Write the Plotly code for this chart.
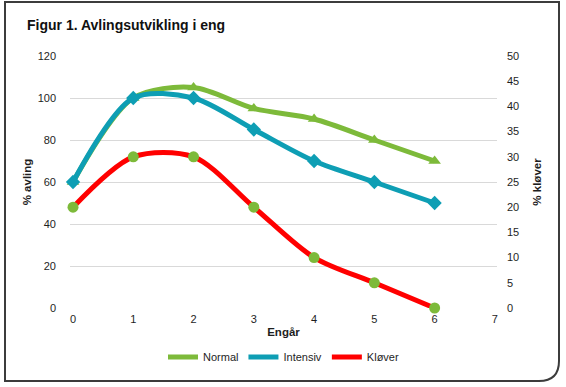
import plotly.graph_objects as go

# ---- data ----
years = [0, 1, 2, 3, 4, 5, 6]
normal = [60, 100, 105, 95, 90, 80, 70]
intensiv = [60, 100, 100, 85, 70, 60, 50]
klover = [20, 30, 30, 20, 10, 5, 0]
x_ticks = [0, 1, 2, 3, 4, 5, 6, 7]
left_ticks = [0, 20, 40, 60, 80, 100, 120]
right_ticks = [0, 5, 10, 15, 20, 25, 30, 35, 40, 45, 50]

GREEN = "#7DBA3A"
TEAL = "#0E9EB4"
RED = "#FF0000"
TXT = "#1e1e1e"
FONT = "Liberation Sans, Arial, sans-serif"

W, H = 566, 387
L, R, T, B = 70, 69, 56, 79
PW, PH = W - L - R, H - T - B
SM = 0.85


def px(x):
    return (x - L) / PW


def py(y):
    return (H - B - y) / PH


fig = go.Figure()
fig.add_trace(go.Scatter(
    x=years, y=normal, mode="lines+markers", name="Normal", showlegend=False,
    line=dict(color=GREEN, width=5, shape="spline", smoothing=SM),
    marker=dict(symbol="triangle-up", size=11, color=GREEN), cliponaxis=False))
fig.add_trace(go.Scatter(
    x=years, y=intensiv, mode="lines+markers", name="Intensiv", showlegend=False,
    line=dict(color=TEAL, width=5, shape="spline", smoothing=SM),
    marker=dict(symbol="diamond", size=11, color=TEAL), cliponaxis=False))
fig.add_trace(go.Scatter(
    x=years, y=klover, mode="lines+markers", name="Kløver", showlegend=False, yaxis="y2",
    line=dict(color=RED, width=5, shape="spline", smoothing=SM),
    marker=dict(symbol="circle", size=11, color=GREEN), cliponaxis=False))

# legend entries (lines only)
for nm, col in [("Normal", GREEN), ("Intensiv", TEAL), ("Kløver", RED)]:
    fig.add_trace(go.Scatter(x=[None], y=[None], mode="lines", name=nm,
                             line=dict(color=col, width=5)))

frame = (f"M {px(5)},{py(2)} L {px(559)},{py(2)} L {px(559)},{py(361)} "
         f"Q {px(559)},{py(381)} {px(539)},{py(381)} L {px(5)},{py(381)} Z")

fig.update_layout(
    width=W, height=H,
    margin=dict(l=L, r=R, t=T, b=B, autoexpand=False),
    paper_bgcolor="white", plot_bgcolor="white",
    font=dict(family=FONT, size=11, color=TXT),
    title=dict(text="<b>Figur 1. Avlingsutvikling i eng</b>", font=dict(size=14, color="#111"),
               xref="container", x=27 / W, xanchor="left",
               yref="container", y=1 - 25 / H, yanchor="middle"),
    xaxis=dict(range=[-0.05, 7.035], tickvals=x_ticks, showgrid=False, zeroline=False,
               showline=False, ticks="", ticklabelstandoff=3,
               title=dict(text="<b>Engår</b>", standoff=3, font=dict(size=11.5))),
    yaxis=dict(range=[0, 120], tickvals=left_ticks, showgrid=True, gridcolor="#D9D9D9",
               gridwidth=1, zeroline=False, showline=False, ticks="", ticklabelstandoff=13,
               title=dict(text="<b>% avling</b>", standoff=3, font=dict(size=11.5))),
    yaxis2=dict(range=[0, 50], tickvals=right_ticks, overlaying="y", side="right",
                showgrid=False, zeroline=False, showline=False, ticks="", ticklabelstandoff=9,
                title=dict(text="<b>% kløver</b>", standoff=14, font=dict(size=11.5))),
    legend=dict(orientation="h", x=0.5, xanchor="center", y=py(357), yanchor="middle",
                font=dict(size=11, color=TXT), bgcolor="rgba(0,0,0,0)", traceorder="normal"),
    shapes=[dict(type="path", path=frame, xref="paper", yref="paper",
                 line=dict(color="#3c3c3c", width=2), fillcolor="rgba(0,0,0,0)", layer="above")],
)

fig.write_html("out.html", config={"displayModeBar": False},
               post_script="document.body.style.margin='0';")
